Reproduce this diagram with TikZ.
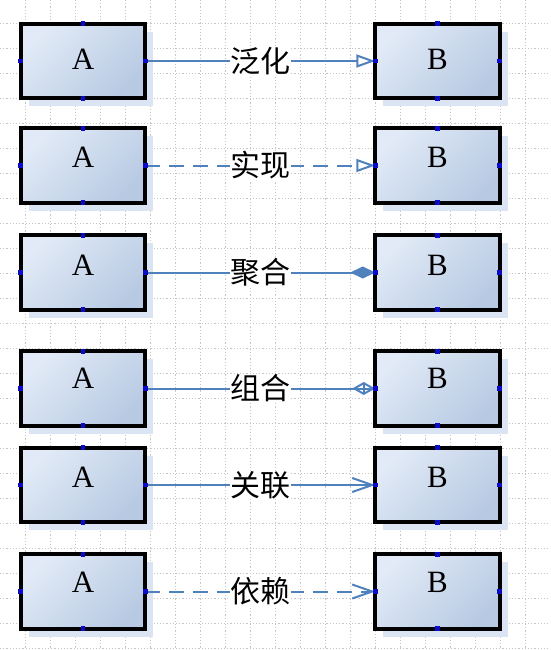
\documentclass[tikz,border=0pt]{standalone}
\usepackage{fontspec}
\setmainfont{Liberation Serif}
\newfontfamily\cjk{Noto Sans CJK SC}
\usetikzlibrary{arrows.meta,shadows}
\definecolor{relblue}{RGB}{79,129,189}
\definecolor{boxlight}{RGB}{225,234,246}
\definecolor{boxdark}{RGB}{184,202,227}
\definecolor{shadeblue}{RGB}{218,228,242}
\definecolor{portblue}{RGB}{10,10,200}
\tikzset{
  gridline/.style={gray!45, line width=0.7pt, dash pattern=on 1.2pt off 2pt},
  umlbox/.style={draw=black, line width=4pt, line join=miter, outer sep=0pt, inner sep=0pt,
    minimum width=124.5pt, minimum height=74.5pt,
    top color=boxlight, bottom color=boxdark, shading angle=45,
    general shadow={fill=shadeblue, shadow xshift=8pt, shadow yshift=-8pt}},
  letter/.style={font=\fontsize{31}{31}\selectfont, inner sep=0pt},
  tag/.style={font=\cjk\fontsize{30}{30}\selectfont, fill=white, inner sep=0.5pt},
  rel/.style={draw=relblue, line width=2pt},
  port/.style={fill=portblue},
  genline/.style={-{Triangle[fill=white,length=19pt,width=13pt]}},
  realline/.style={genline, dash pattern=on 15pt off 9pt},
  aggline/.style={-{Diamond[length=25pt,width=12pt]}},
  compline/.style={-{Diamond[fill=white,length=23pt,width=13pt]}},
  assocline/.style={-{Straight Barb[length=20pt,width=14pt]}},
  depline/.style={assocline, dash pattern=on 15pt off 9pt}
}
\begin{document}
\begin{tikzpicture}[x=1pt, y=-1pt]
\useasboundingbox (0,0) rectangle (550,650);
% grid
\foreach \k in {1,...,21} \draw[gridline] (25*\k,0) -- (25*\k,650);
\foreach \k in {0,...,25} \draw[gridline] (0,23+25*\k) -- (550,23+25*\k);
% classes
\foreach \i/\y/\dy in {1/61/1.5, 2/165.5/8.5, 3/272.5/7.5, 4/388.5/10.5, 5/485/7.5, 6/591.5/9.5} {
  \node[umlbox] (a\i) at (83,\y) {};
  \node[umlbox] (b\i) at (437.5,\y) {};
  \node[letter] (la\i) at ([yshift=\dy pt]a\i.center) {A};
  \node[letter] (lb\i) at ([yshift=\dy pt]b\i.center) {B};
}
% relations
\foreach \i/\lbl/\kind in {1/泛化/genline, 2/实现/realline, 3/聚合/aggline, 4/组合/compline, 5/关联/assocline, 6/依赖/depline}
  \draw[rel,\kind] (a\i) -- node[tag] (t\i) {\lbl} (b\i);
\draw[rel] ([xshift=-22pt]b4.west) -- (b4.west)
  ([xshift=-11.5pt,yshift=5pt]b4.west) -- ([xshift=-11.5pt,yshift=-5pt]b4.west);
% connection points
\foreach \i in {1,...,6}
  \foreach \n in {a,b}
    \foreach \s in {north,south,east,west}
      \fill[port] ([shift={(-2.3pt,-2.3pt)}]\n\i.\s) rectangle ([shift={(2.3pt,2.3pt)}]\n\i.\s);
\end{tikzpicture}
\end{document}
